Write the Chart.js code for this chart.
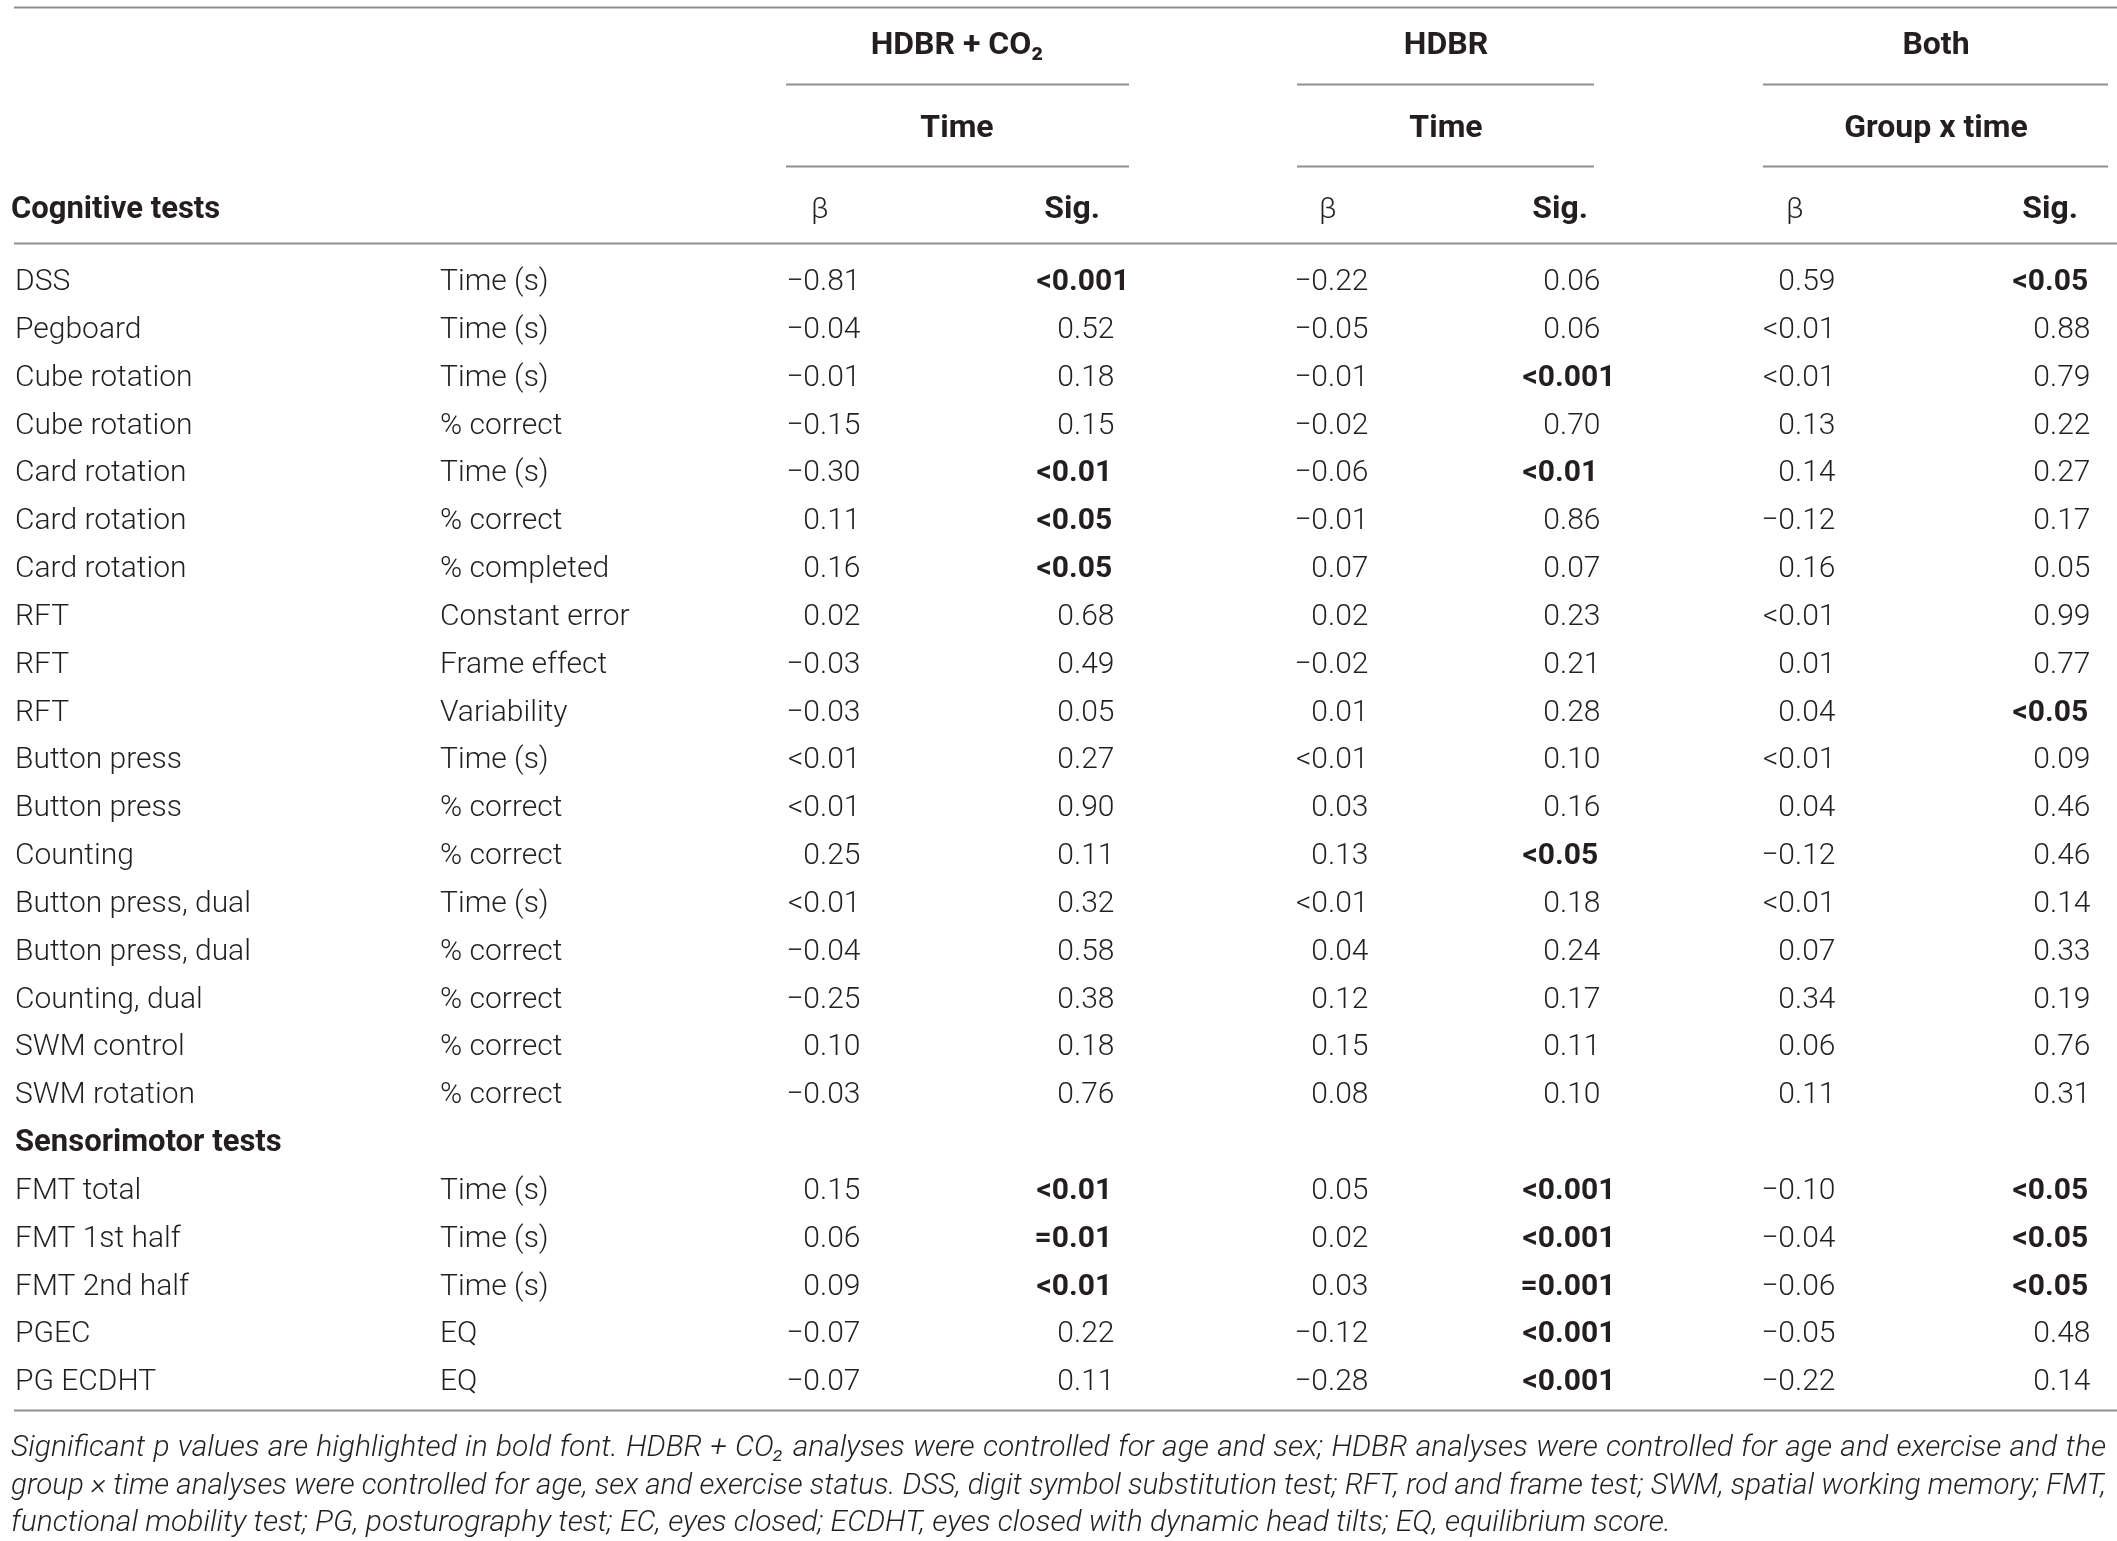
<!DOCTYPE html>
<html>
<head>
<meta charset="utf-8">
<script src="https://cdn.jsdelivr.net/npm/chart.js@4.4.1/dist/chart.umd.min.js"></script>
<style>
  html, body { margin: 0; padding: 0; background: #fff; }
  #wrap { width: 2117px; height: 1541px; position: relative; }
</style>
</head>
<body>
<div id="wrap"><canvas id="tableChart"></canvas></div>
<script>
// ---- table data ----
var sections = ['Cognitive tests', 'Sensorimotor tests'];
var tests = ['DSS', 'Pegboard', 'Cube rotation', 'Cube rotation', 'Card rotation', 'Card rotation',
  'Card rotation', 'RFT', 'RFT', 'RFT', 'Button press', 'Button press', 'Counting',
  'Button press, dual', 'Button press, dual', 'Counting, dual', 'SWM control', 'SWM rotation',
  'FMT total', 'FMT 1st half', 'FMT 2nd half', 'PGEC', 'PG ECDHT'];
var measures = ['Time (s)', 'Time (s)', 'Time (s)', '% correct', 'Time (s)', '% correct',
  '% completed', 'Constant error', 'Frame effect', 'Variability', 'Time (s)', '% correct', '% correct',
  'Time (s)', '% correct', '% correct', '% correct', '% correct',
  'Time (s)', 'Time (s)', 'Time (s)', 'EQ', 'EQ'];
var betaCO2 = ['−0.81', '−0.04', '−0.01', '−0.15', '−0.30', '0.11', '0.16', '0.02', '−0.03', '−0.03',
  '<0.01', '<0.01', '0.25', '<0.01', '−0.04', '−0.25', '0.10', '−0.03',
  '0.15', '0.06', '0.09', '−0.07', '−0.07'];
var sigCO2 = ['<0.001', '0.52', '0.18', '0.15', '<0.01', '<0.05', '<0.05', '0.68', '0.49', '0.05',
  '0.27', '0.90', '0.11', '0.32', '0.58', '0.38', '0.18', '0.76',
  '<0.01', '=0.01', '<0.01', '0.22', '0.11'];
var betaHDBR = ['−0.22', '−0.05', '−0.01', '−0.02', '−0.06', '−0.01', '0.07', '0.02', '−0.02', '0.01',
  '<0.01', '0.03', '0.13', '<0.01', '0.04', '0.12', '0.15', '0.08',
  '0.05', '0.02', '0.03', '−0.12', '−0.28'];
var sigHDBR = ['0.06', '0.06', '<0.001', '0.70', '<0.01', '0.86', '0.07', '0.23', '0.21', '0.28',
  '0.10', '0.16', '<0.05', '0.18', '0.24', '0.17', '0.11', '0.10',
  '<0.001', '<0.001', '=0.001', '<0.001', '<0.001'];
var betaBoth = ['0.59', '<0.01', '<0.01', '0.13', '0.14', '−0.12', '0.16', '<0.01', '0.01', '0.04',
  '<0.01', '0.04', '−0.12', '<0.01', '0.07', '0.34', '0.06', '0.11',
  '−0.10', '−0.04', '−0.06', '−0.05', '−0.22'];
var sigBoth = ['<0.05', '0.88', '0.79', '0.22', '0.27', '0.17', '0.05', '0.99', '0.77', '<0.05',
  '0.09', '0.46', '0.46', '0.14', '0.33', '0.19', '0.76', '0.31',
  '<0.05', '<0.05', '<0.05', '0.48', '0.14'];
var groupHeads = ['HDBR + CO₂', 'HDBR', 'Both'];
var effectHeads = ['Time', 'Time', 'Group x time'];
var colHeads = ['β', 'Sig.'];
var notes = [
  'Significant p values are highlighted in bold font. HDBR + CO₂ analyses were controlled for age and sex; HDBR analyses were controlled for age and exercise and the',
  'group × time analyses were controlled for age, sex and exercise status. DSS, digit symbol substitution test; RFT, rod and frame test; SWM, spatial working memory; FMT,',
  'functional mobility test; PG, posturography test; EC, eyes closed; ECDHT, eyes closed with dynamic head tilts; EQ, equilibrium score.'
];

// ---- layout ----
var W = 2117, H = 1541;
var ROW0 = 279.5, ROW_H = 47.84;          // first body row centre, row pitch (px)
var SECTION2_ROW = 18;                     // "Sensorimotor tests" row
var COL_TEST = 15, COL_MEASURE = 440;
var COL_DEC = [820, 1074, 1328, 1560, 1795, 2050];   // decimal points of the six numeric columns
var BOLD_DX = -5;                          // bold digits run wider, pull them back a little
var SIG_RIGHT = [1100, 1588, 2078];
var GROUP_CENTER = [957, 1446, 1936];
var SPANS = [[786, 1129], [1297, 1594], [1763, 2108]];
var Y_TOP_RULE = -5.70, Y_HEAD1 = -4.943, Y_RULE1 = -4.085, Y_HEAD2 = -3.209,
    Y_RULE2 = -2.372, Y_HEAD3 = -1.515, Y_RULE3 = -0.763, Y_BOTTOM = 23.64,
    Y_NOTES = [24.38, 25.16, 25.95];
var TEXT_DY = 3;                           // nudge from em-box middle to visual middle
var INK = '#231f20', RULE_COLOR = '#8f8f8f';
var LIGHT = '300 30px Roboto, "Liberation Sans", sans-serif';
var BOLD = '700 30px Roboto, "Liberation Sans", sans-serif';
var HEAD = '700 32px Roboto, "Liberation Sans", sans-serif';
var SECTION = '700 31px Roboto, "Liberation Sans", sans-serif';
var NOTE = 'italic 300 30px Roboto, "Liberation Sans", sans-serif';

function rowOf(i) { return i < SECTION2_ROW ? i : i + 1; }
function isSig(v) { return v.charAt(0) === '<' || v.charAt(0) === '='; }

function column(texts, x, kind, boldRule) {
  return {
    data: texts.map(function (t, i) { return { x: x, y: rowOf(i) }; }),
    texts: texts,
    kind: kind,
    boldRule: boldRule || false,
    pointRadius: 0
  };
}

var datasets = [
  column(tests, COL_TEST, 'left'),
  column(measures, COL_MEASURE, 'left'),
  column(betaCO2, COL_DEC[0], 'dec'),
  column(sigCO2, COL_DEC[1], 'dec', true),
  column(betaHDBR, COL_DEC[2], 'dec'),
  column(sigHDBR, COL_DEC[3], 'dec', true),
  column(betaBoth, COL_DEC[4], 'dec'),
  column(sigBoth, COL_DEC[5], 'dec', true)
];

function drawDecimal(ctx, txt, x, y) {
  var k = txt.indexOf('.');
  ctx.textAlign = 'right';
  ctx.fillText(txt.slice(0, k), x, y);
  ctx.textAlign = 'left';
  ctx.fillText(txt.slice(k), x, y);
}

function drawJustified(ctx, line, x0, x1, y, justify) {
  ctx.textAlign = 'left';
  var natural = ctx.measureText(line).width;
  if (!justify) { ctx.fillText(line, x0, y); return; }
  if (natural > x1 - x0) {
    ctx.save();
    ctx.translate(x0, y);
    ctx.scale((x1 - x0) / natural, 1);
    ctx.fillText(line, 0, 0);
    ctx.restore();
    return;
  }
  var words = line.split(' ');
  var widths = words.map(function (w) { return ctx.measureText(w).width; });
  var total = widths.reduce(function (a, b) { return a + b; }, 0);
  var gap = (x1 - x0 - total) / (words.length - 1);
  var x = x0;
  words.forEach(function (w, i) { ctx.fillText(w, x, y); x += widths[i] + gap; });
}

var tablePlugin = {
  id: 'tableText',
  afterDatasetsDraw: function (chart) {
    var ctx = chart.ctx, xs = chart.scales.x, ys = chart.scales.y;
    function px(v) { return xs.getPixelForValue(v); }
    function py(v) { return ys.getPixelForValue(v); }
    ctx.save();

    // rules
    ctx.strokeStyle = RULE_COLOR;
    ctx.lineWidth = 2;
    function hline(x0, x1, yv) {
      var y = Math.round(py(yv)) + 0.5;
      ctx.beginPath(); ctx.moveTo(px(x0), y); ctx.lineTo(px(x1), y); ctx.stroke();
    }
    hline(14, W, Y_TOP_RULE);
    SPANS.forEach(function (s) { hline(s[0], s[1], Y_RULE1); hline(s[0], s[1], Y_RULE2); });
    hline(14, W, Y_RULE3);
    hline(14, W, Y_BOTTOM);

    // headers
    ctx.fillStyle = INK;
    ctx.textBaseline = 'middle';
    ctx.font = HEAD;
    ctx.textAlign = 'center';
    groupHeads.forEach(function (h, g) { ctx.fillText(h, px(GROUP_CENTER[g]), py(Y_HEAD1) + TEXT_DY); });
    effectHeads.forEach(function (h, g) { ctx.fillText(h, px(GROUP_CENTER[g]), py(Y_HEAD2) + TEXT_DY); });
    for (var g = 0; g < 3; g++) {
      ctx.font = LIGHT;
      ctx.textAlign = 'center';
      ctx.fillText(colHeads[0], px(COL_DEC[g * 2]), py(Y_HEAD3) + TEXT_DY);
      ctx.font = HEAD;
      ctx.textAlign = 'right';
      ctx.fillText(colHeads[1], px(SIG_RIGHT[g]), py(Y_HEAD3) + TEXT_DY);
    }
    ctx.font = SECTION;
    ctx.textAlign = 'left';
    ctx.fillText(sections[0], px(11), py(Y_HEAD3) + TEXT_DY);
    ctx.fillText(sections[1], px(15), py(SECTION2_ROW) + TEXT_DY);

    // body cells, placed at the points chart.js laid out
    chart.data.datasets.forEach(function (ds, di) {
      var meta = chart.getDatasetMeta(di);
      meta.data.forEach(function (el, i) {
        var txt = ds.texts[i];
        var bold = ds.boldRule && isSig(txt);
        ctx.font = bold ? BOLD : LIGHT;
        if (ds.kind === 'dec') {
          drawDecimal(ctx, txt, el.x + (bold ? BOLD_DX : 0), el.y + TEXT_DY);
        } else {
          ctx.textAlign = 'left';
          ctx.fillText(txt, el.x, el.y + TEXT_DY);
        }
      });
    });

    // footnote
    ctx.font = NOTE;
    notes.forEach(function (line, i) {
      drawJustified(ctx, line, px(11), px(2106), py(Y_NOTES[i]) + TEXT_DY, i < notes.length - 1);
    });
    ctx.restore();
  }
};

new Chart(document.getElementById('tableChart').getContext('2d'), {
  type: 'scatter',
  data: { datasets: datasets },
  options: {
    responsive: true,
    maintainAspectRatio: false,
    animation: false,
    events: [],
    layout: { padding: 0 },
    plugins: { legend: { display: false }, tooltip: { enabled: false } },
    scales: {
      x: { type: 'linear', min: 0, max: W, display: false },
      y: { type: 'linear', min: -ROW0 / ROW_H, max: (H - ROW0) / ROW_H, reverse: true, display: false }
    }
  },
  plugins: [tablePlugin]
});
</script>
</body>
</html>
